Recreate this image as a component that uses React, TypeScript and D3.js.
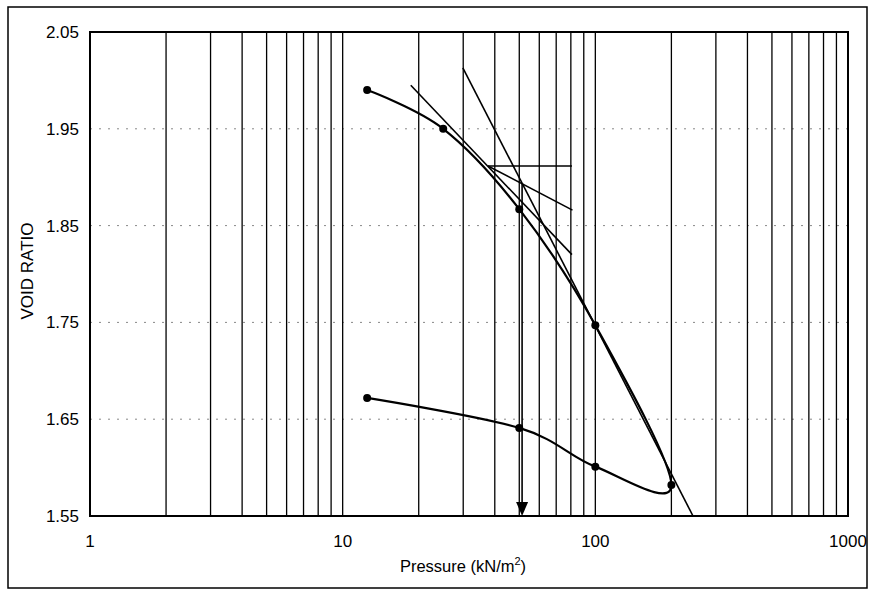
import { useEffect, useRef } from "react";
import * as d3 from "d3";

const W = 869;
const H = 593;
const PLOT = { left: 90, right: 848, top: 32, bottom: 516 };
const FONT = "'Liberation Sans', Arial, sans-serif";

// consolidation test: loading then unloading
const loadP = [12.5, 25, 50, 100, 200];
const loadE = [1.99, 1.95, 1.867, 1.747, 1.582];
const unloadP = [100, 50, 12.5];
const unloadE = [1.601, 1.641, 1.672];

const yTicks = [1.55, 1.65, 1.75, 1.85, 1.95, 2.05];
const xTicks = [1, 10, 100, 1000];

// Casagrande construction lines [p1, e1, p2, e2]
const virginLine = [29.9, 2.013, 243.5, 1.55];
const tangentLine = [18.6, 1.995, 80.8, 1.82];
const horizLine = [37.6, 1.9116, 80.8, 1.9116];
const bisectLine = [37.6, 1.9116, 81.2, 1.866];
const preconP = 51.3;
const preconE = 1.893;

export default function App() {
  const svgRef = useRef<SVGSVGElement>(null);

  useEffect(() => {
    const svg = d3.select(svgRef.current);
    svg.selectAll("*").remove();

    const x = d3.scaleLog().domain([1, 1000]).range([PLOT.left, PLOT.right]);
    const y = d3.scaleLinear().domain([1.55, 2.05]).range([PLOT.bottom, PLOT.top]);

    svg.append("rect").attr("width", W).attr("height", H).attr("fill", "#fff");

    // outer frame
    svg
      .append("rect")
      .attr("x", 8)
      .attr("y", 7)
      .attr("width", 859)
      .attr("height", 581)
      .attr("fill", "none")
      .attr("stroke", "#000")
      .attr("stroke-width", 1.5);

    // horizontal dashed gridlines
    yTicks.slice(1, -1).forEach((t) => {
      svg
        .append("line")
        .attr("x1", PLOT.left)
        .attr("x2", PLOT.right)
        .attr("y1", y(t))
        .attr("y2", y(t))
        .attr("stroke", "#888")
        .attr("stroke-width", 1)
        .attr("stroke-dasharray", "2,7");
    });

    // vertical log gridlines
    const vLines: number[] = [];
    [1, 10, 100].forEach((d) => {
      for (let k = 2; k <= 10; k++) vLines.push(d * k);
    });
    vLines
      .filter((v) => v < 1000)
      .forEach((v) => {
        svg
          .append("line")
          .attr("x1", x(v))
          .attr("x2", x(v))
          .attr("y1", PLOT.top)
          .attr("y2", PLOT.bottom)
          .attr("stroke", "#000")
          .attr("stroke-width", 1.3);
      });

    // plot frame
    svg
      .append("rect")
      .attr("x", PLOT.left)
      .attr("y", PLOT.top)
      .attr("width", PLOT.right - PLOT.left)
      .attr("height", PLOT.bottom - PLOT.top)
      .attr("fill", "none")
      .attr("stroke", "#000")
      .attr("stroke-width", 2);

    // tick labels
    yTicks.forEach((t) => {
      svg
        .append("text")
        .attr("x", 79)
        .attr("y", y(t) + 6)
        .attr("text-anchor", "end")
        .attr("font-family", FONT)
        .attr("font-size", "17px")
        .text(t.toFixed(2));
    });
    xTicks.forEach((t) => {
      svg
        .append("text")
        .attr("x", x(t))
        .attr("y", 547)
        .attr("text-anchor", "middle")
        .attr("font-family", FONT)
        .attr("font-size", "17px")
        .text(String(t));
    });

    // axis titles
    const xt = svg
      .append("text")
      .attr("x", 463)
      .attr("y", 572)
      .attr("text-anchor", "middle")
      .attr("font-family", FONT)
      .attr("font-size", "16.5px");
    xt.append("tspan").text("Pressure (kN/m");
    xt.append("tspan").attr("font-size", "11px").attr("dy", -7).text("2");
    xt.append("tspan").attr("dy", 7).text(")");

    svg
      .append("text")
      .attr("transform", `translate(33,271) rotate(-90)`)
      .attr("text-anchor", "middle")
      .attr("font-family", FONT)
      .attr("font-size", "17px")
      .text("VOID RATIO");

    // construction lines
    [virginLine, tangentLine, horizLine, bisectLine].forEach((l) => {
      svg
        .append("line")
        .attr("x1", x(l[0]))
        .attr("y1", y(l[1]))
        .attr("x2", x(l[2]))
        .attr("y2", y(l[3]))
        .attr("stroke", "#000")
        .attr("stroke-width", 1.6);
    });

    // preconsolidation arrow
    const ax = x(preconP);
    svg
      .append("line")
      .attr("x1", ax)
      .attr("x2", ax)
      .attr("y1", y(preconE))
      .attr("y2", PLOT.bottom - 12)
      .attr("stroke", "#000")
      .attr("stroke-width", 1.6);
    svg
      .append("path")
      .attr(
        "d",
        `M${ax - 6},${PLOT.bottom - 14} L${ax + 6},${PLOT.bottom - 14} L${ax},${PLOT.bottom} Z`
      )
      .attr("fill", "#000");

    // data series (loading + unloading, smoothed)
    const pts: [number, number][] = [
      ...loadP.map((p, i) => [p, loadE[i]] as [number, number]),
      ...unloadP.map((p, i) => [p, unloadE[i]] as [number, number]),
    ];
    const line = d3
      .line<[number, number]>()
      .x((d) => x(d[0]))
      .y((d) => y(d[1]))
      .curve(d3.curveCardinal.tension(0));
    svg
      .append("path")
      .attr("d", line(pts))
      .attr("fill", "none")
      .attr("stroke", "#000")
      .attr("stroke-width", 2.2);

    svg
      .selectAll("circle.pt")
      .data(pts)
      .enter()
      .append("circle")
      .attr("class", "pt")
      .attr("cx", (d) => x(d[0]))
      .attr("cy", (d) => y(d[1]))
      .attr("r", 4)
      .attr("fill", "#000");
  }, []);

  return (
    <svg
      ref={svgRef}
      width={W}
      height={H}
      style={{ position: "absolute", left: 0, top: 0 }}
    />
  );
}
